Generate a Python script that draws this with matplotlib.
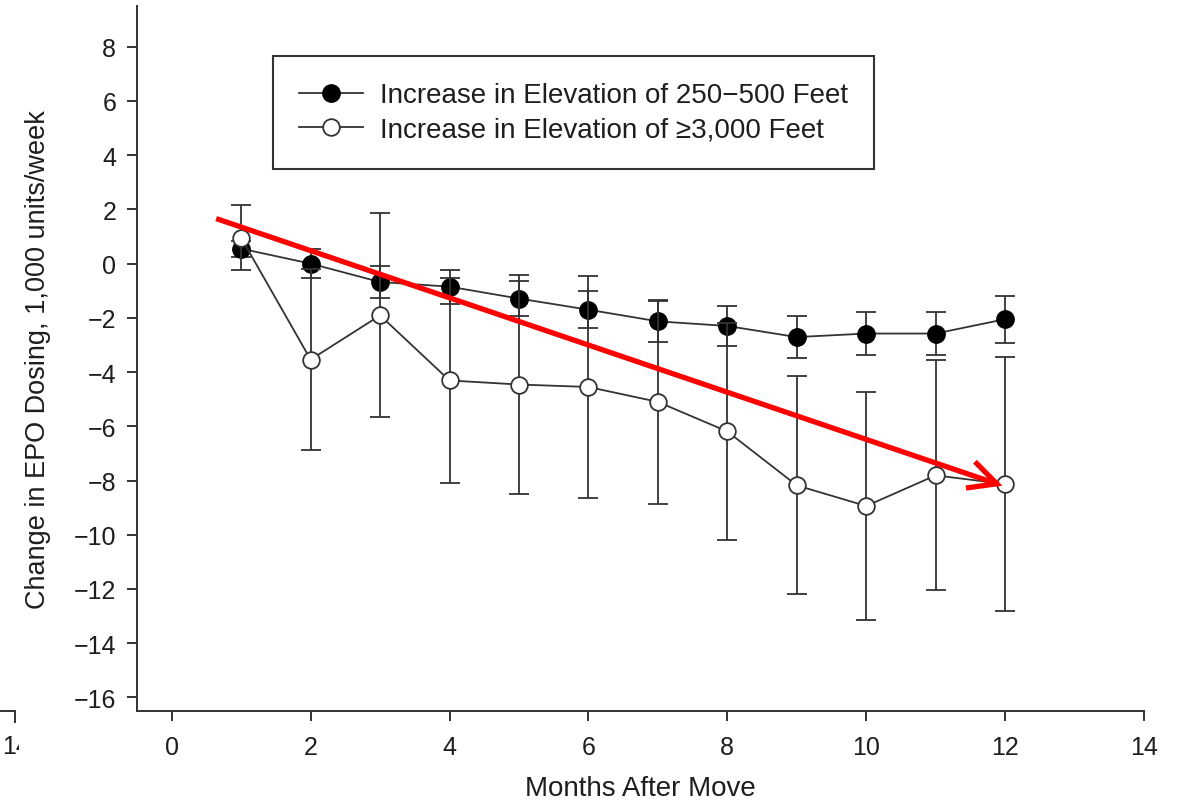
import matplotlib
matplotlib.use("Agg")
import matplotlib.pyplot as plt
from matplotlib.lines import Line2D
from matplotlib.patches import FancyArrowPatch
from matplotlib.transforms import Bbox, TransformedBbox

# ---- data ----
months = [1, 2, 3, 4, 5, 6, 7, 8, 9, 10, 11, 12]
low_mean = [0.55, 0.0, -0.68, -0.85, -1.29, -1.70, -2.13, -2.30, -2.71, -2.58, -2.58, -2.05]
low_err = [0.30, 0.53, 0.58, 0.63, 0.65, 0.69, 0.75, 0.75, 0.78, 0.79, 0.80, 0.87]
high_mean = [0.95, -3.54, -1.91, -4.31, -4.46, -4.55, -5.10, -6.19, -8.18, -8.94, -7.81, -8.13]
high_err = [1.20, 3.33, 3.76, 3.77, 4.05, 4.08, 3.77, 3.99, 4.02, 4.20, 4.24, 4.68]
label_low = "Increase in Elevation of 250\u2212500 Feet"
label_high = "Increase in Elevation of \u22653,000 Feet"
xticks = [0, 2, 4, 6, 8, 10, 12, 14]
yticks = [-16, -14, -12, -10, -8, -6, -4, -2, 0, 2, 4, 6, 8]
trend_start = (0.64, 1.66)
trend_end = (11.96, -8.19)

plt.rcParams['font.family'] = ['Liberation Sans', 'DejaVu Sans']
dark = '#333333'
txt = '#1e1e1e'

fig = plt.figure(figsize=(11.79, 8.03), dpi=100)
ax = fig.add_axes([137/1179, 1-712/803, (1144-137)/1179, (712-7)/803])

ax.errorbar(months, low_mean, yerr=low_err, color=dark, lw=1.3, elinewidth=1.3,
            capsize=7.5, capthick=1.3, marker='o', ms=12.5, mfc='black', mec='black',
            zorder=3)
ax.errorbar(months, high_mean, yerr=high_err, color=dark, lw=1.3, elinewidth=1.3,
            capsize=7.5, capthick=1.3, marker='o', ms=12, mfc='white', mec=dark,
            mew=1.3, zorder=4)

arrow = FancyArrowPatch(trend_start, trend_end, arrowstyle='->,head_length=1.0,head_width=0.5',
                        mutation_scale=20, color='#ff0000', lw=3.8, shrinkA=0, shrinkB=0,
                        zorder=6, capstyle='butt', joinstyle='miter')
ax.add_patch(arrow)

ax.set_xlim(-0.5, 14)
ax.set_ylim(-16.5, 9.5)
ax.set_xticks(xticks)
ax.set_yticks(yticks)
for s in ['top', 'right']:
    ax.spines[s].set_visible(False)
for s in ['left', 'bottom']:
    ax.spines[s].set_color(dark)
    ax.spines[s].set_linewidth(1.4)
ax.tick_params(axis='both', direction='out', length=7, width=1.4, color=dark,
               labelsize=18, labelcolor=txt)
ax.tick_params(axis='x', pad=10)
ax.tick_params(axis='y', pad=8)

ax.set_xlabel("Months After Move", fontsize=20, color=txt, labelpad=12)
ax.set_ylabel("Change in EPO Dosing, 1,000 units/week", fontsize=19.5, color=txt, labelpad=16)

handles = [Line2D([], [], color=dark, lw=1.3, marker='o', ms=12.5, mfc='black', mec='black'),
           Line2D([], [], color=dark, lw=1.3, marker='o', ms=12, mfc='white', mec=dark, mew=1.3)]
leg = ax.legend(handles, [label_low, label_high], loc='upper left',
                bbox_to_anchor=(0.135, 0.929), fontsize=20,
                frameon=True, fancybox=False, framealpha=1, edgecolor=dark,
                handlelength=2.3, handletextpad=0.6, labelspacing=0.3,
                borderpad=0.95, borderaxespad=0)
leg.get_frame().set_linewidth(1.5)
for t in leg.get_texts():
    t.set_color(txt)

# fragment of neighbouring panel at left edge
fig.add_artist(Line2D([0, 15/1179], [1-712/803, 1-712/803], transform=fig.transFigure,
                      color=dark, lw=1.4))
fig.add_artist(Line2D([15/1179, 15/1179], [1-712/803, 1-723/803], transform=fig.transFigure,
                      color=dark, lw=1.4))
t = fig.text(2/1179, 1-747/803, "14", fontsize=18, color=txt, ha='left', va='center')
t.set_clip_box(TransformedBbox(Bbox([[0, 0], [19/1179, 1]]), fig.transFigure))
t.set_clip_on(True)

fig.savefig("out.png", dpi=100)
